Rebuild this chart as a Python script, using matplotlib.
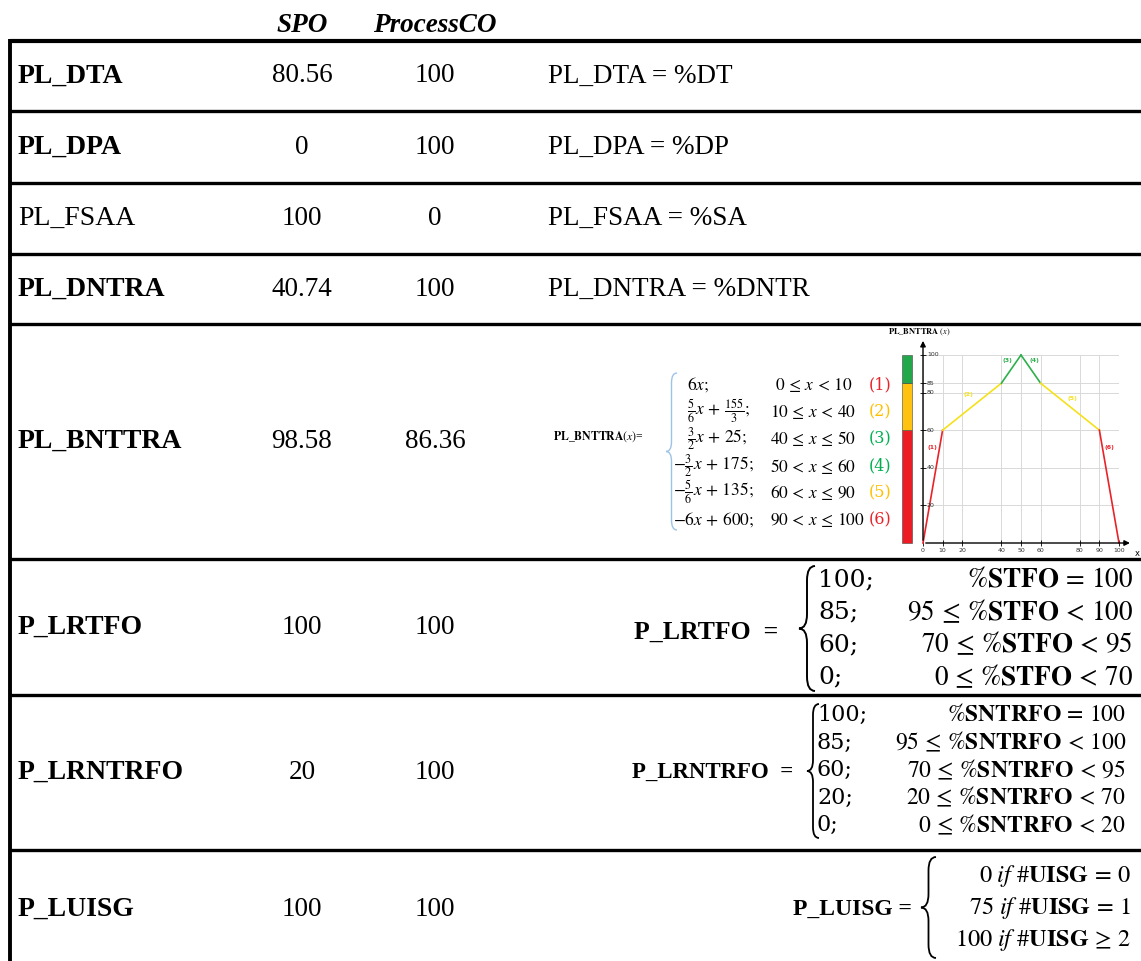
import numpy as np
import matplotlib.pyplot as plt
from matplotlib.path import Path
from matplotlib.patches import PathPatch

plt.rcParams['font.family'] = ['Liberation Serif', 'DejaVu Serif']
plt.rcParams['mathtext.fontset'] = 'stix'

# ---- table data ----
row_labels = ["PL_DTA", "PL_DPA", "PL_FSAA", "PL_DNTRA", "PL_BNTTRA",
              "P_LRTFO", "P_LRNTRFO", "P_LUISG"]
label_bold = [True, True, False, True, True, True, True, True]
spo_vals = ["80.56", "0", "100", "40.74", "98.58", "100", "20", "100"]
processco_vals = ["100", "100", "0", "100", "86.36", "100", "100", "100"]
simple_formulas = ["PL_DTA = %DT", "PL_DPA = %DP", "PL_FSAA = %SA", "PL_DNTRA = %DNTR"]

# PL_BNTTRA piecewise function
bnt_pieces = [r"$6x;$", r"$\frac{5}{6}x\,+\,\frac{155}{3};$", r"$\frac{3}{2}x\,+\,25;$",
              r"$-\frac{3}{2}x\,+\,175;$", r"$-\frac{5}{6}x\,+\,135;$", r"$-6x\,+\,600;$"]
bnt_conds = [r"$0\,\leq\,x\,<\,10$", r"$10\,\leq\,x\,<\,40$", r"$40\,\leq\,x\,\leq\,50$",
             r"$50\,<\,x\,\leq\,60$", r"$60\,<\,x\,\leq\,90$", r"$90\,<\,x\,\leq\,100$"]
bnt_x = [0, 10, 40, 50, 60, 90, 100]
bnt_y = [0, 60, 85, 100, 85, 60, 0]
bnt_xticks = [0, 10, 20, 40, 50, 60, 80, 90, 100]
bnt_yticks = [20, 40, 60, 80, 85, 100]
band_lo = [0, 60, 85]
band_hi = [60, 85, 100]

# P_LRTFO
lrtfo_vals = ["100;", "85;", "60;", "0;"]
lrtfo_conds = [r"$\%\mathbf{STFO}\,=\,100$", r"$95\,\leq\,\%\mathbf{STFO}\,<\,100$",
               r"$70\,\leq\,\%\mathbf{STFO}\,<\,95$", r"$0\,\leq\,\%\mathbf{STFO}\,<\,70$"]
# P_LRNTRFO
lrntrfo_vals = ["100;", "85;", "60;", "20;", "0;"]
lrntrfo_conds = [r"$\%\mathbf{SNTRFO}\,=\,100$", r"$95\,\leq\,\%\mathbf{SNTRFO}\,<\,100$",
                 r"$70\,\leq\,\%\mathbf{SNTRFO}\,<\,95$", r"$20\,\leq\,\%\mathbf{SNTRFO}\,<\,70$",
                 r"$0\,\leq\,\%\mathbf{SNTRFO}\,<\,20$"]
# P_LUISG
luisg_rows = [r"$0\ if\ \#\mathbf{UISG}\,=\,0$", r"$75\ if\ \#\mathbf{UISG}\,=\,1$",
              r"$100\ if\ \#\mathbf{UISG}\,\geq\,2$"]

RED = '#E8232A'
YEL = '#FFC000'
GRN = '#00B050'
seg_colors = [RED, '#F5E11B', '#2DB04B', '#2DB04B', '#F5E11B', RED]
num_colors = [RED, YEL, GRN, GRN, YEL, RED]
band_colors = ['#ED1C24', '#FFC20E', '#22A84A']

W, H = 1141, 961
fig = plt.figure(figsize=(W / 100, H / 100), dpi=100)
ax = fig.add_axes([0, 0, 1, 1])
ax.set_xlim(0, W)
ax.set_ylim(H, 0)
ax.axis('off')


def brace(ax, x, y0, y1, w, color='black', lw=1.3):
    # curly brace, tip on the left at x, opening to the right
    ym = (y0 + y1) / 2
    h = w * 0.9
    xm = x + w / 2
    verts = [(x + w, y0), (xm, y0), (xm, y0 + h), (xm, ym - h), (xm, ym), (x, ym),
             (xm, ym), (xm, ym + h), (xm, y1 - h), (xm, y1), (x + w, y1)]
    codes = [Path.MOVETO, Path.CURVE3, Path.CURVE3, Path.LINETO, Path.CURVE3, Path.CURVE3,
             Path.CURVE3, Path.CURVE3, Path.LINETO, Path.CURVE3, Path.CURVE3]
    ax.add_patch(PathPatch(Path(verts, codes), fill=False, edgecolor=color, lw=lw))


# ---- grid lines ----
row_edges = [41, 111, 183, 254, 324, 559, 695, 850, 961]
ax.plot([10, W], [41, 41], color='black', lw=3, solid_capstyle='butt')
for y in row_edges[1:-1]:
    ax.plot([10, W], [y, y], color='black', lw=2.4, solid_capstyle='butt')
ax.plot([10, 10], [39, H], color='black', lw=2.8, solid_capstyle='butt')

# ---- header ----
ax.text(302, 25, "SPO", fontsize=19.5, fontweight='bold', fontstyle='italic', ha='center', va='center')
ax.text(435, 25, "ProcessCO", fontsize=19.5, fontweight='bold', fontstyle='italic', ha='center', va='center')

# ---- rows ----
for i, lab in enumerate(row_labels):
    yc = (row_edges[i] + row_edges[i + 1]) / 2
    if i == 7:
        yc = 909
    ax.text(18, yc, lab, fontsize=20, fontweight='bold' if label_bold[i] else 'normal',
            ha='left', va='center')
    ax.text(302, yc, spo_vals[i], fontsize=19.5, ha='center', va='center')
    ax.text(435, yc, processco_vals[i], fontsize=19.5, ha='center', va='center')
    if i < 4:
        ax.text(548, yc, simple_formulas[i], fontsize=19.5, ha='left', va='center')

# ---- PL_BNTTRA formula ----
ax.text(553, 437, r"$\mathbf{PL\_BNTTRA}(x)$=", fontsize=8.5, ha='left', va='center')
brace(ax, 666, 373, 530, 11, color='#9DC3E6', lw=1.0)
bnt_rows_y = np.linspace(385, 520, 6)
for piece, cond, col, yy, k in zip(bnt_pieces, bnt_conds, num_colors, bnt_rows_y, range(6)):
    xp = 673 if piece.startswith("$-") else 687
    ax.text(xp, yy, piece, fontsize=12.5, ha='left', va='center')
    ax.text(853 if k == 0 else 770, yy, cond, fontsize=12.5,
            ha='right' if k == 0 else 'left', va='center')
    ax.text(880, yy, "(%d)" % (k + 1), fontsize=11.5, color=col, ha='center', va='center',
            family='DejaVu Serif')

# inset chart of PL_BNTTRA(x)
ax_in = fig.add_axes([923 / W, 1 - 543 / H, 196 / W, 188 / H])
ax_in.set_xlim(0, 100)
ax_in.set_ylim(0, 100)
for s in ax_in.spines.values():
    s.set_visible(False)
ax_in.set_xticks(bnt_xticks)
ax_in.set_yticks(bnt_yticks)
ax_in.grid(True, color='#d9d9d9', lw=0.7)
ax_in.tick_params(axis='both', direction='inout', length=4, width=0.6, labelsize=4.5, pad=1.5)
ax_in.tick_params(axis='y', labelleft=False)
for t in bnt_yticks:
    ax_in.text(2, t, str(t), fontsize=4.5, ha='left', va='center', color='#333333',
               family='DejaVu Sans')
for lbl in ax_in.get_xticklabels():
    lbl.set_family('DejaVu Sans')
    lbl.set_color('#333333')
ax_in.annotate('', xy=(107, 0), xytext=(0, 0), annotation_clip=False,
               arrowprops=dict(arrowstyle='-|>', color='black', lw=1.0, mutation_scale=8))
ax_in.annotate('', xy=(0, 109), xytext=(0, 0), annotation_clip=False,
               arrowprops=dict(arrowstyle='-|>', color='black', lw=1.0, mutation_scale=8))
ax_in.text(108, -3, 'x', fontsize=6, ha='left', va='top', family='DejaVu Sans')
for k in range(6):
    ax_in.plot(bnt_x[k:k + 2], bnt_y[k:k + 2], color=seg_colors[k], lw=1.2, clip_on=False)
seg_label_pos = [(5, 51), (23, 79), (43, 97), (57, 97), (76, 77), (95, 51)]
for k, (lx, ly) in enumerate(seg_label_pos):
    ax_in.text(lx, ly, "(%d)" % (k + 1), fontsize=4.5, color=seg_colors[k], fontweight='bold',
               ha='center', va='center', family='DejaVu Sans')
for lo, hi, c in zip(band_lo, band_hi, band_colors):
    ax_in.bar(-8.2, hi - lo, bottom=lo, width=5.2, color=c, edgecolor='#444444', lw=0.4,
              clip_on=False)
ax.text(888, 332, r"$\mathbf{PL\_BNTTRA}\ (x)$", fontsize=6, ha='left', va='center')

# ---- P_LRTFO ----
ax.text(634, 632, "P_LRTFO  =", fontsize=18.5, fontweight='bold', ha='left', va='center')
brace(ax, 799, 566, 691, 16, lw=1.4)
for v, c, yy in zip(lrtfo_vals, lrtfo_conds, np.linspace(580, 677, 4)):
    ax.text(818, yy, v, fontsize=18, ha='left', va='center', family='DejaVu Serif')
    ax.text(1133, yy, c, fontsize=19.5, ha='right', va='center')

# ---- P_LRNTRFO ----
ax.text(632, 772, "P_LRNTRFO  =", fontsize=16.5, fontweight='bold', ha='left', va='center')
brace(ax, 807, 704, 838, 12, lw=1.3)
for v, c, yy in zip(lrntrfo_vals, lrntrfo_conds, np.linspace(715, 825, 5)):
    ax.text(817, yy, v, fontsize=16, ha='left', va='center', family='DejaVu Serif')
    ax.text(1126, yy, c, fontsize=17, ha='right', va='center')

# ---- P_LUISG ----
ax.text(793, 909, "P_LUISG =", fontsize=17, fontweight='bold', ha='left', va='center')
brace(ax, 921, 857, 958, 15, lw=1.3)
for r, yy in zip(luisg_rows, np.linspace(876, 940, 3)):
    ax.text(1131, yy, r, fontsize=17.5, ha='right', va='center')

fig.savefig('out.png', dpi=100)
